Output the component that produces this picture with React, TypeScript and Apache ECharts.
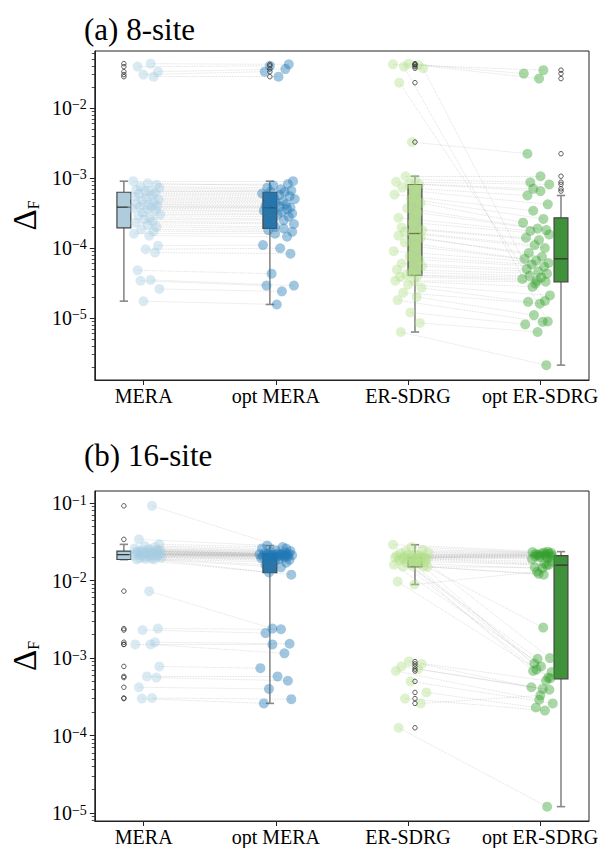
import React, { useEffect, useRef } from 'react';
import * as echarts from 'echarts';

// ---------- labels ----------
const CATEGORIES = ['MERA', 'opt MERA', 'ER-SDRG', 'opt ER-SDRG'];
const PANEL_TITLES = ['(a) 8-site', '(b) 16-site'];
const Y_TICK_EXP_A = [-5, -4, -3, -2];
const Y_TICK_EXP_B = [-5, -4, -3, -2, -1];
const Y_LIMITS_A = [1.3e-6, 0.0652];
const Y_LIMITS_B = [7.9e-6, 0.143];

// ---------- panel (a) 8-site: paired values (index i of MERA <-> index i of opt MERA) ----------
const MERA_A = [
  0.043, 0.039, 0.033, 0.030, 0.028,
  9.0e-4, 8.4e-4, 8.0e-4, 7.5e-4, 7.2e-4, 6.8e-4, 6.5e-4, 6.4e-4,
  6.1e-4, 5.9e-4, 5.6e-4, 5.4e-4, 5.1e-4, 4.9e-4, 4.7e-4, 4.5e-4, 4.3e-4, 4.2e-4, 4.0e-4, 3.9e-4,
  3.83e-4,
  3.7e-4, 3.55e-4, 3.4e-4, 3.2e-4, 3.0e-4, 2.9e-4, 2.7e-4, 2.55e-4, 2.4e-4, 2.3e-4, 2.15e-4, 2.0e-4,
  1.85e-4, 1.74e-4, 1.6e-4, 1.5e-4, 1.08e-4, 9.6e-5, 8.6e-5, 4.8e-5, 3.5e-5, 3.4e-5, 2.6e-5, 1.74e-5,
];
const OPT_MERA_A = [
  0.042, 0.040, 0.036, 0.033, 0.028,
  9.0e-4, 7.8e-4, 8.2e-4, 7.3e-4, 6.9e-4, 6.6e-4, 6.4e-4, 6.3e-4,
  6.0e-4, 5.7e-4, 5.5e-4, 5.2e-4, 5.0e-4, 4.8e-4, 4.6e-4, 4.4e-4, 4.2e-4, 4.0e-4, 3.9e-4, 3.8e-4,
  3.75e-4,
  3.6e-4, 3.4e-4, 3.3e-4, 3.1e-4, 3.0e-4, 2.8e-4, 2.6e-4, 2.5e-4, 2.3e-4, 2.2e-4, 2.0e-4, 1.9e-4,
  1.8e-4, 1.7e-4, 1.6e-4, 1.45e-4, 1.1e-4, 9.9e-5, 8.3e-5, 4.3e-5, 2.9e-5, 2.9e-5, 2.4e-5, 1.56e-5,
];
const ER_A = [
  0.042, 0.043, 0.041, 0.039, 0.037, 0.023, 3.26e-3,
  1.06e-3, 9.5e-4, 8.8e-4, 8.3e-4, 8.1e-4,
  7.3e-4, 6.5e-4, 5.8e-4, 5.0e-4, 4.4e-4, 3.7e-4, 3.2e-4, 2.7e-4, 2.3e-4, 1.96e-4, 1.8e-4, 1.7e-4,
  1.61e-4,
  1.5e-4, 1.4e-4, 1.2e-4, 1.05e-4, 9.0e-5, 7.6e-5, 6.8e-5, 6.0e-5, 5.5e-5, 4.9e-5, 4.5e-5, 4.1e-5,
  4.0e-5, 3.9e-5, 3.4e-5, 3.4e-5, 3.0e-5, 2.7e-5, 2.3e-5, 2.0e-5, 1.8e-5, 1.2e-5, 8.5e-6, 6.3e-6,
];
const OPT_ER_A = [
  0.0347, 0.031, 0.0263, 8.9e-6, 3.1e-5, 1.75e-5, 2.22e-3,
  1.06e-3, 8.7e-4, 8.1e-4, 7.0e-4, 6.5e-4,
  5.62e-4, 4.2e-4, 3.4e-4, 2.6e-4, 2.3e-4, 1.9e-4, 1.8e-4, 1.75e-4, 1.56e-4, 1.4e-4, 1.3e-4, 1.1e-4,
  1.0e-4,
  8.5e-5, 7.5e-5, 7.0e-5, 6.6e-5, 6.1e-5, 5.8e-5, 5.4e-5, 5.0e-5, 4.6e-5, 4.3e-5, 4.0e-5, 3.8e-5,
  3.6e-5, 3.4e-5, 3.3e-5, 2.8e-5, 2.1e-5, 1.7e-5, 1.6e-5, 1.1e-5, 8.8e-6, 8.1e-6, 6.3e-6, 2.12e-6,
];
// box stats [lower whisker, Q1, median, Q3, upper whisker]
const BOX_A = [
  [1.74e-5, 1.94e-4, 3.83e-4, 6.26e-4, 9.0e-4],
  [1.56e-5, 1.9e-4, 3.75e-4, 6.26e-4, 9.0e-4],
  [6.3e-6, 4.08e-5, 1.61e-4, 8.07e-4, 1.06e-3],
  [2.12e-6, 3.29e-5, 7.0e-5, 2.7e-4, 5.62e-4],
];

// ---------- panel (b) 16-site ----------
const MERA_B = [
  0.092, 0.034,
  0.0293, 0.028, 0.027, 0.026, 0.0255, 0.025, 0.0245, 0.0245, 0.024, 0.024,
  0.0238, 0.0235, 0.0232, 0.023, 0.0228, 0.0225, 0.0223, 0.022, 0.0219, 0.0218, 0.0217,
  0.0216,
  0.0214, 0.0212, 0.021, 0.0207, 0.0204, 0.0201, 0.0198, 0.0195, 0.0192, 0.019, 0.0188, 0.0187,
  7.3e-3, 2.4e-3, 2.3e-3, 1.6e-3, 1.5e-3, 1.5e-3, 7.8e-4, 5.8e-4, 5.6e-4, 4.2e-4, 3.05e-4, 3.0e-4,
];
const OPT_MERA_B = [
  0.0259, 0.0283,
  0.027, 0.026, 0.0245, 0.024, 0.0235, 0.023, 0.0225, 0.0223, 0.0222, 0.022,
  0.0219, 0.0218, 0.0216, 0.0215, 0.0213, 0.0212, 0.0211, 0.021, 0.021, 0.0208, 0.0206,
  0.0205,
  0.0203, 0.02, 0.0198, 0.0195, 0.019, 0.0185, 0.018, 0.017, 0.016, 0.0148, 0.0127, 0.0119,
  2.4e-3, 2.35e-3, 2.1e-3, 1.53e-3, 1.5e-3, 1.15e-3, 7.4e-4, 5.8e-4, 5.1e-4, 4.0e-4, 2.95e-4, 2.6e-4,
];
const ER_B = [
  0.029, 0.027, 0.025, 0.024, 0.023, 0.0225, 0.022, 0.0215, 0.021, 0.021, 0.0205, 0.0203, 0.0201,
  0.0199, 0.0198, 0.0197, 0.0196, 0.0196, 0.0195, 0.0194, 0.0193, 0.0192, 0.019, 0.0188,
  0.0185, 0.018, 0.0175, 0.017, 0.0165, 0.016, 0.0155, 0.0152, 0.0151, 0.015,
  9.7e-3, 8.9e-3,
  9.0e-4, 8.4e-4, 7.8e-4, 7.2e-4, 6.8e-4, 5.0e-4, 3.6e-4, 3.0e-4, 2.6e-4, 1.26e-4,
];
const OPT_ER_B = [
  0.0236, 0.0233, 0.023, 0.0228, 0.0225, 0.0222, 0.022, 0.0218, 0.0215, 0.0212, 0.021, 0.0208, 0.0205,
  0.0202, 0.02, 0.0195, 0.019, 2.47e-3, 1.0e-3, 9.8e-4, 0.0175, 8.5e-4, 0.0165, 7.8e-4,
  0.016, 7.1e-4, 0.0158, 6.8e-4, 0.0143, 6.6e-4, 0.0122, 5.6e-4, 0.0148, 0.0119,
  5.5e-4, 0.013,
  5.1e-4, 4.2e-4, 4.0e-4, 3.9e-4, 2.9e-4, 2.6e-4, 2.3e-4, 2.1e-4, 3.3e-4, 1.21e-5,
];
const BOX_B = [
  [0.0186, 0.0187, 0.0216, 0.024, 0.0293],
  [2.6e-4, 0.0126, 0.021, 0.0223, 0.0283],
  [8.9e-3, 0.015, 0.0196, 0.020, 0.029],
  [1.21e-5, 5.4e-4, 0.0158, 0.021, 0.0236],
];

// ---------- layout / style ----------
const FONT = '"Liberation Serif", "Times New Roman", Times, serif';
const X_MIN = -0.37;
const X_MAX = 3.37;
const BOX_OFFSET = [-0.15, -0.045, 0.053, 0.158];
const BOX_WIDTH = 0.105;
const JITTER = [0.3, -0.6, 0.8, -0.2, 0.5, -0.9, 0.1, 0.7, -0.4, 0.9, -0.7, 0.2, -0.1, 0.6, -0.5, 0.4, -0.8, 0.0, 0.85, -0.3,
  0.55, -0.65, 0.15, 0.75, -0.45, 0.35, -0.95, 0.05, 0.65, -0.25, 0.95, -0.55, 0.25, -0.15, 0.45, -0.75, 0.1, 0.7, -0.35, 0.5,
  -0.85, 0.2, 0.8, -0.05, 0.6, -0.6, 0.3, -0.4, 0.9, -0.2];
const JIT_CENTER = [[0.02, 0.02, 0.0, -0.03], [0.03, 0.0, 0.02, 0.015]];
const JIT_HALF = [[0.11, 0.13, 0.12, 0.11], [0.11, 0.13, 0.14, 0.085]];
const POINT_COLORS = ['#a6cee3', '#1f78b4', '#b2df8a', '#33a02c'];
const BOX_FILLS = ['#aeccdb', '#3274a1', '#b3d495', '#40923a'];
const AXIS_COLOR = '#222';
const GRIDS = [
  { left: 90, top: 51, width: 499, height: 329 },
  { left: 90, top: 491, width: 499, height: 330 },
];
const TITLE_POS = [[84, 29], [84, 455]];

const log = (v: number) => Math.log10(v);

function minorTicks(lo: number, hi: number) {
  const out: number[] = [];
  for (let d = Math.floor(lo); d <= Math.ceil(hi); d++) {
    for (let k = 2; k <= 9; k++) {
      const t = d + Math.log10(k);
      if (t > lo && t < hi) out.push(t);
    }
  }
  return out;
}

function buildPanel(p: number, groups: number[][], boxes: number[][]) {
  const xi = p;
  const yi = p * 2;
  const pts = groups.map((vals, g) =>
    vals.map((v, i) => [g + JIT_CENTER[p][g] + JIT_HALF[p][g] * JITTER[(i + g * 13) % JITTER.length], log(v)])
  );
  const series: any[] = [];
  const lineData: any[] = [];
  [[0, 1], [2, 3]].forEach(([a, b]) => {
    pts[a].forEach((pt, i) => {
      if (pts[b][i]) lineData.push({ coords: [pt, pts[b][i]] });
    });
  });
  series.push({
    type: 'lines',
    coordinateSystem: 'cartesian2d',
    xAxisIndex: xi,
    yAxisIndex: yi,
    data: lineData,
    silent: true,
    z: 1,
    lineStyle: { color: '#9a9a9a', width: 0.8, type: 'dotted', opacity: 0.4 },
  });
  series.push({
    type: 'custom',
    xAxisIndex: xi,
    yAxisIndex: yi,
    z: 2,
    silent: true,
    clip: false,
    encode: { x: 0, y: [1, 2, 3, 4, 5] },
    data: boxes.map((b, g) => [g + BOX_OFFSET[g], ...b.map(log), g]),
    renderItem: (params: any, api: any) => {
      const x = api.value(0);
      const g = api.value(6);
      const lo = api.coord([x, api.value(1)]);
      const q1 = api.coord([x, api.value(2)]);
      const md = api.coord([x, api.value(3)]);
      const q3 = api.coord([x, api.value(4)]);
      const hi = api.coord([x, api.value(5)]);
      const w = api.size([BOX_WIDTH, 0])[0];
      const cx = lo[0];
      const cap = w * 0.3;
      const wh = { stroke: '#888', lineWidth: 1.6 };
      return {
        type: 'group',
        children: [
          { type: 'line', shape: { x1: cx, y1: hi[1], x2: cx, y2: q3[1] }, style: wh },
          { type: 'line', shape: { x1: cx, y1: q1[1], x2: cx, y2: lo[1] }, style: wh },
          { type: 'line', shape: { x1: cx - cap, y1: hi[1], x2: cx + cap, y2: hi[1] }, style: wh },
          { type: 'line', shape: { x1: cx - cap, y1: lo[1], x2: cx + cap, y2: lo[1] }, style: wh },
          {
            type: 'rect',
            shape: { x: cx - w / 2, y: q3[1], width: w, height: Math.max(q1[1] - q3[1], 0.5) },
            style: { fill: BOX_FILLS[g], stroke: '#444', lineWidth: 1.2 },
          },
          { type: 'line', shape: { x1: cx - w / 2, y1: md[1], x2: cx + w / 2, y2: md[1] }, style: { stroke: '#333', lineWidth: 1.3 } },
        ],
      };
    },
  });
  groups.forEach((vals, g) => {
    series.push({
      type: 'scatter',
      xAxisIndex: xi,
      yAxisIndex: yi,
      z: 3,
      silent: true,
      symbol: 'circle',
      symbolSize: 10,
      itemStyle: { color: POINT_COLORS[g], opacity: 0.42 },
      data: pts[g],
    });
  });
  const fliers: number[][] = [];
  groups.forEach((vals, g) => {
    const b = boxes[g];
    vals.forEach((v) => {
      if (v < b[0] * 0.999 || v > b[4] * 1.001) fliers.push([g + BOX_OFFSET[g], log(v)]);
    });
  });
  series.push({
    type: 'scatter',
    xAxisIndex: xi,
    yAxisIndex: yi,
    z: 4,
    silent: true,
    symbol: 'circle',
    symbolSize: 4.5,
    itemStyle: { color: 'rgba(255,255,255,0)', borderColor: '#333', borderWidth: 1 },
    data: fliers,
  });
  return series;
}

function yAxes(p: number, limits: number[], exps: number[]) {
  const lo = log(limits[0]);
  const hi = log(limits[1]);
  return [
    {
      type: 'value',
      gridIndex: p,
      position: 'left',
      min: lo,
      max: hi,
      axisLine: { show: true, onZero: false, lineStyle: { color: AXIS_COLOR, width: 1 } },
      axisTick: { show: true, customValues: exps, length: 5, lineStyle: { color: AXIS_COLOR, width: 1 } },
      axisLabel: {
        customValues: exps,
        margin: 8,
        formatter: (v: number) => `{b|10}{s|\u2212${Math.round(-v)}}`,
        rich: {
          b: { fontFamily: FONT, fontSize: 20, color: '#000' },
          s: { fontFamily: FONT, fontSize: 14, color: '#000', verticalAlign: 'top' },
        },
      },
      splitLine: { show: false },
      name: '{d|\u0394}{f|F}',
      nameLocation: 'middle',
      nameRotate: 90,
      nameGap: 50,
      nameTextStyle: {
        rich: {
          d: { fontFamily: FONT, fontSize: 33, color: '#000' },
          f: { fontFamily: FONT, fontSize: 16, color: '#000', verticalAlign: 'bottom' },
        },
      },
    },
    {
      type: 'value',
      gridIndex: p,
      position: 'left',
      min: lo,
      max: hi,
      axisLine: { show: false, onZero: false },
      axisTick: { show: true, customValues: minorTicks(lo, hi), length: 3, lineStyle: { color: AXIS_COLOR, width: 0.8 } },
      axisLabel: { show: false },
      splitLine: { show: false },
    },
  ];
}

export default function App() {
  const ref = useRef<HTMLDivElement>(null);
  useEffect(() => {
    if (!ref.current) return;
    const chart = echarts.init(ref.current, null, { renderer: 'svg' });
    const xAxes = [0, 1].map((p) => ({
      type: 'value',
      gridIndex: p,
      min: X_MIN,
      max: X_MAX,
      axisLine: { show: true, onZero: false, lineStyle: { color: AXIS_COLOR, width: 1 } },
      axisTick: { show: true, customValues: [0, 1, 2, 3], length: 5, lineStyle: { color: AXIS_COLOR } },
      axisLabel: {
        customValues: [0, 1, 2, 3],
        formatter: (v: number) => CATEGORIES[Math.round(v)],
        fontFamily: FONT,
        fontSize: 20,
        color: '#000',
        margin: 6,
      },
      splitLine: { show: false },
    }));
    chart.setOption({
      animation: false,
      backgroundColor: '#fff',
      grid: GRIDS.map((g) => ({ ...g, show: true, borderColor: AXIS_COLOR, borderWidth: 1, backgroundColor: 'transparent' })),
      xAxis: xAxes,
      yAxis: [...yAxes(0, Y_LIMITS_A, Y_TICK_EXP_A), ...yAxes(1, Y_LIMITS_B, Y_TICK_EXP_B)],
      graphic: PANEL_TITLES.map((t, i) => ({
        type: 'text',
        x: TITLE_POS[i][0],
        y: TITLE_POS[i][1],
        style: { text: t, fontFamily: FONT, fontSize: 31, fill: '#000', verticalAlign: 'middle' },
      })),
      series: [
        ...buildPanel(0, [MERA_A, OPT_MERA_A, ER_A, OPT_ER_A], BOX_A),
        ...buildPanel(1, [MERA_B, OPT_MERA_B, ER_B, OPT_ER_B], BOX_B),
      ],
    });
    return () => chart.dispose();
  }, []);
  return (
    <div
      ref={ref}
      style={{ position: 'absolute', left: 0, top: 0, width: 611, height: 848, background: '#fff' }}
    />
  );
}
